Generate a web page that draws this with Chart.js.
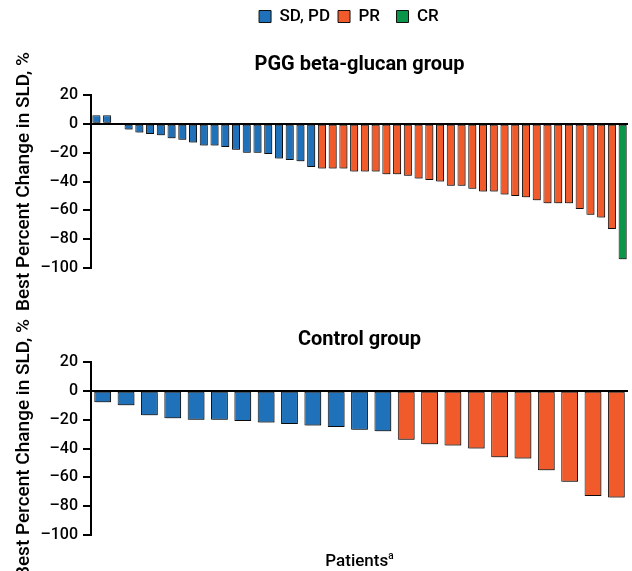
<!DOCTYPE html>
<html>
<head>
<meta charset="utf-8">
<script src="https://cdn.jsdelivr.net/npm/chart.js@4.4.1/dist/chart.umd.min.js"></script>
<style>
  body { margin: 0; background: #fff; width: 632px; height: 571px; overflow: hidden; position: relative;
         font-family: Roboto, sans-serif; }
  #topBox { position: absolute; left: 0; top: 0; width: 632px; height: 315px; }
  #bottomBox { position: absolute; left: 0; top: 300px; width: 632px; height: 271px; }
  #xlabel { position: absolute; left: 91px; width: 537px; top: 550px; text-align: center; font-size: 17px;
            font-weight: 500; color: #000; }
  #xlabel sup { font-size: 10px; }
</style>
</head>
<body>
<div id="topBox"><canvas id="topChart"></canvas></div>
<div id="bottomBox"><canvas id="bottomChart"></canvas></div>
<div id="xlabel">Patients<sup>a</sup></div>
<script>
// Dati (best percent change in SLD per paziente)
const pggChange = [6, 6, 0, -4, -6, -7, -8, -10, -11, -13, -15, -15, -16, -18, -20, -20, -21, -24, -25, -26, -30,
  -31, -31, -31, -33, -33, -33, -35, -35, -36, -38, -39, -40, -43, -43, -45, -47, -47, -49, -50, -51, -53, -55, -55, -55, -59, -63, -65, -73,
  -94];
const pggResponse = ['SD', 'SD', 'SD', 'SD', 'SD', 'SD', 'SD', 'SD', 'SD', 'SD', 'SD', 'SD', 'SD', 'SD', 'SD', 'SD', 'SD', 'SD', 'SD', 'SD', 'SD',
  'PR', 'PR', 'PR', 'PR', 'PR', 'PR', 'PR', 'PR', 'PR', 'PR', 'PR', 'PR', 'PR', 'PR', 'PR', 'PR', 'PR', 'PR', 'PR', 'PR', 'PR', 'PR', 'PR', 'PR', 'PR', 'PR', 'PR', 'PR',
  'CR'];
const controlChange = [-8, -10, -17, -19, -20, -20, -21, -22, -23, -24, -25, -27, -28,
  -34, -37, -38, -40, -46, -47, -55, -63, -73, -74];
const controlResponse = ['SD', 'SD', 'SD', 'SD', 'SD', 'SD', 'SD', 'SD', 'SD', 'SD', 'SD', 'SD', 'SD',
  'PR', 'PR', 'PR', 'PR', 'PR', 'PR', 'PR', 'PR', 'PR', 'PR'];
const yTicks = [20, 0, -20, -40, -60, -80, -100];

const responseColors = { SD: '#1f72b9', PR: '#f15a2b', CR: '#0a9548' };
// spazi finali per riprodurre la spaziatura della legenda originale
const legendNames = { SD: 'SD, PD', PR: 'PR\u00a0\u00a0', CR: 'CR\u00a0\u00a0\u00a0\u00a0\u00a0' };
const FONT = 'Roboto, sans-serif';

// Ombra leggera sotto le barre
const shadowPlugin = {
  id: 'barShadow',
  beforeDatasetDraw(chart) {
    const c = chart.ctx;
    c.save();
    c.shadowColor = 'rgba(0,0,0,0.35)';
    c.shadowOffsetX = 1.5;
    c.shadowOffsetY = 1.5;
    c.shadowBlur = 0;
  },
  afterDatasetDraw(chart) {
    chart.ctx.restore();
  }
};

function buildChart(canvasId, values, responses, titleText, showLegend, barPct, pad, titlePad) {
  const ctx = document.getElementById(canvasId).getContext('2d');
  return new Chart(ctx, {
    type: 'bar',
    data: {
      labels: values.map((v, i) => i + 1),
      datasets: [{
        data: values,
        backgroundColor: responses.map(r => responseColors[r]),
        borderColor: '#111',
        borderWidth: 1,
        borderSkipped: false,
        barPercentage: barPct,
        categoryPercentage: 1
      }]
    },
    options: {
      responsive: true,
      maintainAspectRatio: false,
      animation: false,
      layout: { padding: pad },
      plugins: {
        legend: {
          display: showLegend,
          position: 'top',
          fullSize: false,
          labels: {
            color: '#000',
            font: { family: FONT, size: 17, weight: 500 },
            boxWidth: 12,
            boxHeight: 12,
            padding: 8,
            generateLabels: () => ['SD', 'PR', 'CR'].map(k => ({
              text: legendNames[k],
              fillStyle: responseColors[k],
              strokeStyle: '#111',
              lineWidth: 1
            }))
          }
        },
        title: {
          display: true,
          text: titleText,
          fullSize: false,
          weight: 500,
          color: '#000',
          font: { family: FONT, size: 20, weight: 'bold' },
          padding: titlePad
        },
        tooltip: { enabled: false }
      },
      scales: {
        x: { display: false, offset: true },
        y: {
          min: -100,
          max: 20,
          afterBuildTicks: axis => { axis.ticks = yTicks.map(v => ({ value: v })); },
          afterFit: axis => { axis.width = 91; },
          ticks: {
            color: '#000',
            font: { family: FONT, size: 16, weight: 500 },
            padding: 5,
            callback: v => (v < 0 ? '\u2013' + Math.abs(v) : String(v))
          },
          grid: {
            color: c => (c.tick && c.tick.value === 0) ? '#000' : 'rgba(0,0,0,0)',
            tickColor: '#000',
            lineWidth: 2,
            tickLength: 8
          },
          border: { display: true, color: '#000', width: 2 },
          title: {
            display: true,
            text: 'Best Percent Change in SLD, %',
            color: '#000',
            font: { family: FONT, size: 19, weight: 500 },
            padding: { top: 13, bottom: 0 }
          }
        }
      }
    },
    plugins: [shadowPlugin]
  });
}

buildChart('topChart', pggChange, pggResponse, 'PGG beta-glucan group', true, 0.75,
  { top: 0, right: 4, bottom: 47, left: 0 }, { top: 18, bottom: 18 });
buildChart('bottomChart', controlChange, controlResponse, 'Control group', false, 0.72,
  { top: 0, right: 4, bottom: 36, left: 0 }, { top: 28, bottom: 10 });
</script>
</body>
</html>
